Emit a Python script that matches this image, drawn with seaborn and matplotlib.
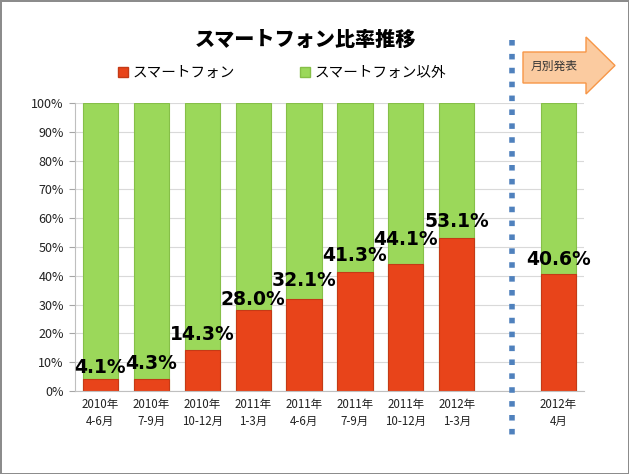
import numpy as np
import pandas as pd
import matplotlib
matplotlib.use('Agg')
import matplotlib.pyplot as plt
from matplotlib.lines import Line2D
from matplotlib.patches import Polygon
import seaborn as sns

# --- Datos ---
periodos = ['2010年\n4-6月', '2010年\n7-9月', '2010年\n10-12月', '2011年\n1-3月',
            '2011年\n4-6月', '2011年\n7-9月', '2011年\n10-12月', '2012年\n1-3月',
            '2012年\n4月']
smartphone = [4.1, 4.3, 14.3, 28.0, 32.1, 41.3, 44.1, 53.1, 40.6]
HUECO = '   '  # posición vacía antes del dato mensual
orden = periodos[:8] + [HUECO] + periodos[8:]
yticks = list(range(0, 101, 10))

titulo = 'スマートフォン比率推移'
serie_sp = 'スマートフォン'
serie_otros = 'スマートフォン以外'
flecha_txt = '月別発表'

ROJO = '#E8441A'
VERDE = '#9BD85A'

# separación (pt) de cada etiqueta sobre su barra, como en el original
sep_etiquetas = [1.5, 4, 4, 1, 6, 5, 11, 5, 4]

df = pd.DataFrame({'periodo': periodos, 'smart': smartphone})
df['total'] = 100.0

sns.set_style('white')
plt.rcParams['font.family'] = ['Noto Sans CJK JP', 'DejaVu Sans']

fig = plt.figure(figsize=(6.29, 4.74), dpi=100)
ax = fig.add_axes([75 / 629, 1 - 391 / 474, 509 / 629, 288 / 474])

# Barras apiladas: fondo verde 100%, rojo encima
sns.barplot(data=df, x='periodo', y='total', order=orden, color=VERDE,
            saturation=1, width=0.69, edgecolor='#86BF48', linewidth=0.8, ax=ax)
sns.barplot(data=df, x='periodo', y='smart', order=orden, color=ROJO,
            saturation=1, width=0.69, edgecolor='#C43A16', linewidth=0.8, ax=ax)

# Etiquetas de porcentaje sobre las barras rojas
for barra, v, sep in zip(ax.containers[-1], smartphone, sep_etiquetas):
    cx = barra.get_x() + barra.get_width() / 2
    ax.annotate(f'{v:.1f}%', xy=(cx, barra.get_height()), xytext=(0, sep),
                textcoords='offset points', ha='center', va='bottom',
                fontsize=13.5, fontweight='bold', family='DejaVu Sans',
                color='black')

ax.set_ylim(0, 100)
ax.set_yticks(yticks)
ax.set_yticklabels([f'{t}%' for t in yticks], fontsize=9, color='#222222')
ax.set_xticks(range(len(orden)))
ax.set_xticklabels([o if o != HUECO else '' for o in orden], fontsize=8.3,
                   color='#222222', linespacing=1.4)
ax.set_xlabel('')
ax.set_ylabel('')
ax.yaxis.grid(True, color='#D9D9D9', linewidth=0.8)
ax.set_axisbelow(True)
ax.tick_params(axis='y', length=4, color='#A6A6A6', pad=4, left=True)
ax.tick_params(axis='x', length=0, pad=5)
for s in ['top', 'right']:
    ax.spines[s].set_visible(False)
for s in ['left', 'bottom']:
    ax.spines[s].set_color('#BFBFBF')
    ax.spines[s].set_linewidth(0.8)

# Título y leyenda
fig.text(305 / 629, 1 - 40 / 474, titulo, ha='center', va='center',
         fontsize=14.5, fontweight='heavy', color='black')
handles = [plt.Rectangle((0, 0), 1, 1, facecolor=ROJO, edgecolor='#C43A16'),
           plt.Rectangle((0, 0), 1, 1, facecolor=VERDE, edgecolor='#86BF48')]
leg = fig.legend(handles, [serie_sp, serie_otros], loc='center',
                 bbox_to_anchor=(282 / 629, 1 - 73 / 474), ncol=2, frameon=False,
                 fontsize=10.5, handlelength=0.7, handleheight=0.7,
                 handletextpad=0.3, columnspacing=4.5)
for t in leg.get_texts():
    t.set_color('black')

# Línea punteada separadora
W, H = 629, 474
fig.add_artist(Line2D([512 / W, 512 / W], [1 - 40 / H, 1 - 440 / H],
                      transform=fig.transFigure, color='#4F81BD', lw=4,
                      linestyle=(0, (1, 1.5)), dash_capstyle='butt'))

# Flecha "月別発表"
pts = [(523, 52), (586, 52), (586, 37), (615, 65.5), (586, 94), (586, 83), (523, 83)]
flecha = Polygon([(x / W, 1 - y / H) for x, y in pts], closed=True,
                 transform=fig.transFigure, facecolor='#FBCBA0',
                 edgecolor='#F79646', linewidth=1)
fig.add_artist(flecha)
fig.text(531 / W, 1 - 66 / H, flecha_txt, ha='left', va='center', fontsize=8.5,
         color='#333333')

fig.patch.set_edgecolor('#8C8C8C')
fig.patch.set_linewidth(2)
fig.savefig('out.png', dpi=100, edgecolor=fig.get_edgecolor())
print("Imagen guardada.")
